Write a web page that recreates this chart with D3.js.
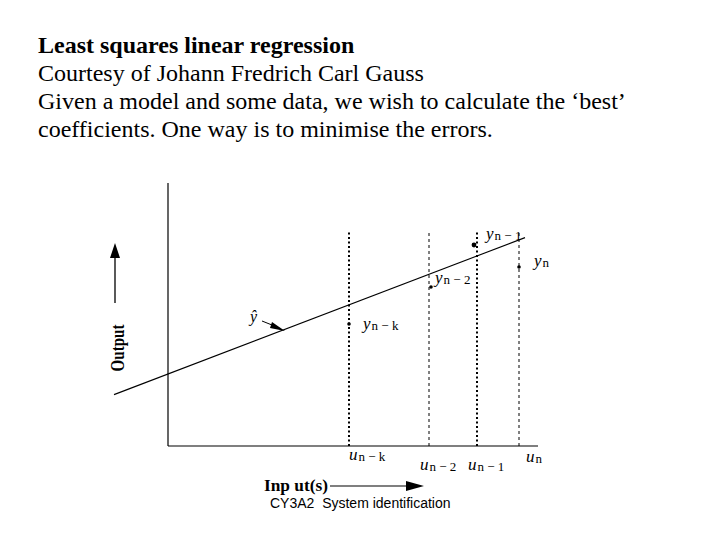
<!DOCTYPE html>
<html><head><meta charset="utf-8">
<script src="https://cdn.jsdelivr.net/npm/d3@7"></script>
<style>body{margin:0;background:#fff}svg{display:block}</style>
</head><body>
<svg id="c" width="720" height="540"></svg>
<script>
// Data (arbitrary input/output units)
const inputLabels = ["n − k", "n − 2", "n − 1", "n"];
const inputValues = [181, 261, 309, 351];
const outputValues = [122, 159, 201, 179];
const lineX = [-54, 357];
const lineIntercept = 72;
const lineSlope = 0.382;
const guideTop = 214;
const titleLines = [
  "Least squares linear regression",
  "Courtesy of Johann Fredrich Carl Gauss",
  "Given a model and some data, we wish to calculate the \u2018best\u2019",
  "coefficients. One way is to minimise the errors."
];

const svg = d3.select("#c");
const x = d3.scaleLinear().domain([0, 370]).range([168, 538]);
const y = d3.scaleLinear().domain([0, 263]).range([446, 183]);
const serif = "Liberation Serif, Times New Roman, serif";

// Title text
svg.selectAll("text.title").data(titleLines).join("text")
  .attr("class", "title")
  .attr("x", 38).attr("y", (d, i) => 53 + i * 28)
  .attr("font-family", serif)
  .attr("font-size", 24)
  .attr("font-weight", (d, i) => i === 0 ? "bold" : "normal")
  .text(d => d);

// axes
const g = svg.append("g");
g.append("line").attr("x1", x(0)).attr("x2", x(0)).attr("y1", y(0)).attr("y2", y(263))
  .attr("stroke", "#000").attr("stroke-width", 1.2);
g.append("line").attr("x1", x(0)).attr("x2", x(370)).attr("y1", y(0)).attr("y2", y(0))
  .attr("stroke", "#000").attr("stroke-width", 1.2);

// guides
g.selectAll("line.guide").data(inputValues).join("line")
  .attr("class", "guide")
  .attr("x1", d => x(d)).attr("x2", d => x(d))
  .attr("y1", y(0)).attr("y2", y(guideTop))
  .attr("stroke", "#000")
  .attr("stroke-width", (d, i) => (i % 2 === 0) ? 2 : 1)
  .attr("stroke-dasharray", (d, i) => (i % 2 === 0) ? "2,2.5" : "3,3");

// regression line
g.append("line")
  .attr("x1", x(lineX[0])).attr("y1", y(lineIntercept + lineSlope * lineX[0]))
  .attr("x2", x(lineX[1])).attr("y2", y(lineIntercept + lineSlope * lineX[1]))
  .attr("stroke", "#000").attr("stroke-width", 1.1);

// points
const pts = inputValues.map((v, i) => ({u: v, y: outputValues[i], lab: inputLabels[i]}));
g.selectAll("circle.pt").data(pts).join("circle")
  .attr("class", "pt")
  .attr("cx", (d, i) => x(d.u) + [0, 2, -3, 0][i])
  .attr("cy", d => y(d.y))
  .attr("r", (d, i) => i === 2 ? 2.4 : 1.8).attr("fill", "#000");

function mathLabel(sel, base, sub, px, py) {
  const t = sel.append("text").attr("x", px).attr("y", py)
    .attr("font-family", serif).attr("font-size", 17);
  t.append("tspan").attr("font-style", "italic").text(base);
  t.append("tspan").attr("font-size", 13).attr("dx", 1).attr("dy", 1).text(sub);
  return t;
}
const yOff = [[14, 5], [6, -4], [9, -6], [15, -1]];
pts.forEach((d, i) => mathLabel(svg, "y", d.lab, x(d.u) + yOff[i][0], y(d.y) + yOff[i][1]));
const uOff = [[0, 14], [-9, 24], [-9, 24], [7, 16]];
pts.forEach((d, i) => mathLabel(svg, "u", d.lab, x(d.u) + uOff[i][0], y(0) + uOff[i][1]));

// y-hat label and arrow
svg.append("text").attr("x", 250).attr("y", 322).attr("font-family", serif)
  .attr("font-size", 16).attr("font-style", "italic").text("\u0177");
svg.append("line").attr("x1", 262).attr("y1", 321).attr("x2", 277).attr("y2", 327)
  .attr("stroke", "#000").attr("stroke-width", 1);
svg.append("path").attr("d", "M285,331 L272,322 L270,328 Z").attr("fill", "#000");

// Output label + arrow
svg.append("text").attr("transform", "translate(124,348) rotate(-90)")
  .attr("text-anchor", "middle").attr("font-family", serif).attr("font-weight", "bold")
  .attr("font-size", 18).attr("textLength", 47).attr("lengthAdjust", "spacingAndGlyphs")
  .text("Output");
svg.append("line").attr("x1", 115).attr("x2", 115).attr("y1", 303).attr("y2", 255)
  .attr("stroke", "#000").attr("stroke-width", 1.3);
svg.append("path").attr("d", "M115,243 L110,258 L120,258 Z").attr("fill", "#000");

// Input label + arrow
svg.append("text").attr("x", 264).attr("y", 491).attr("font-family", serif)
  .attr("font-weight", "bold").attr("font-size", 16)
  .attr("textLength", 64).attr("lengthAdjust", "spacingAndGlyphs").text("Inp ut(s)");
svg.append("line").attr("x1", 330).attr("x2", 408).attr("y1", 486).attr("y2", 486)
  .attr("stroke", "#000").attr("stroke-width", 1.2);
svg.append("path").attr("d", "M424,486 L406,481 L406,491 Z").attr("fill", "#000");

// footer
svg.append("text").attr("x", 270).attr("y", 508).attr("font-family", "Liberation Sans, Arial, sans-serif")
  .attr("font-size", 14).style("white-space", "pre").text("CY3A2  System identification");
</script>
</body></html>
